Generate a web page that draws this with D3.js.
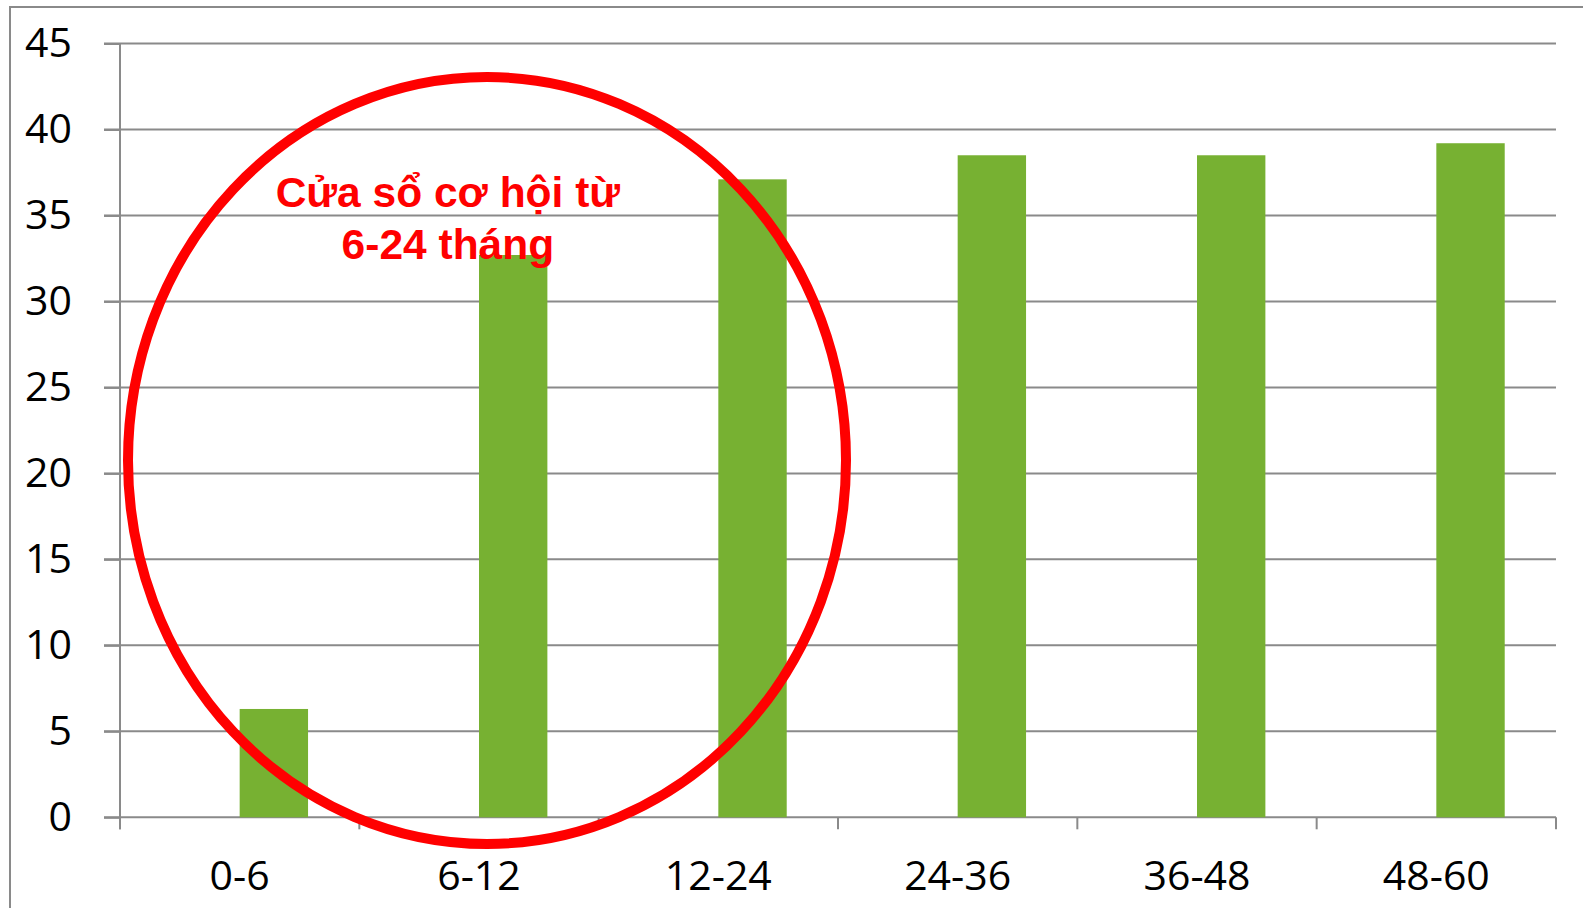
<!DOCTYPE html>
<html>
<head>
    <meta charset="UTF-8">
    <title>Cửa sổ cơ hội</title>
    <script src="https://d3js.org/d3.v7.min.js"></script>

    <style type="text/css">
      body{
        margin: 0;
        background-color: white;
      }

      svg{
        display: block;
        background-color: white;
      }
    </style>

</head>
<body>
    <svg id="chart"></svg>

    <script>

        // data
        const categories = ["0-6", "6-12", "12-24", "24-36", "36-48", "48-60"];
        const series = ["empty", "value"];
        const values = [6.3, 32.7, 37.1, 38.5, 38.5, 39.2];
        const yTicks = [0, 5, 10, 15, 20, 25, 30, 35, 40, 45];
        const noteLines = ["Cửa sổ cơ hội từ", "6-24 tháng"];

        const totalW = 1583;
        const totalH = 908;
        const margins = {top: 43.5, bottom: 90.7, left: 120, right: 27};
        const width = totalW - margins.left - margins.right;
        const height = totalH - margins.top - margins.bottom;

        const gridColor = "#8a8a8a";
        const barColor = "#77b132";

        const svg = d3.select("#chart")
          .attr("width", totalW)
          .attr("height", totalH);

        // outer frame of the pasted chart
        svg.append("rect")
          .attr("x", 10)
          .attr("y", 7)
          .attr("width", totalW + 50)
          .attr("height", totalH + 50)
          .attr("fill", "none")
          .attr("stroke", gridColor)
          .attr("stroke-width", 2);

        const chart = svg.append("g")
          .attr("transform", `translate(${margins.left}, ${margins.top})`);

        const x_scale = d3.scaleBand()
          .range([0, width])
          .domain(categories);

        // two series per category, first one is empty (like the excel source)
        const x_sub = d3.scaleBand()
          .range([0, x_scale.bandwidth()])
          .domain(series)
          .paddingInner(0)
          .paddingOuter(0.75);

        const y_scale = d3.scaleLinear()
          .range([height, 0])
          .domain([0, 45]);

        // gridlines
        chart.append("g")
          .selectAll("line")
          .data(yTicks)
          .enter()
          .append("line")
          .attr("x1", -16)
          .attr("x2", width)
          .attr("y1", d => y_scale(d))
          .attr("y2", d => y_scale(d))
          .attr("stroke", gridColor)
          .attr("stroke-width", 2);

        // y axis
        const yAxis = chart.append("g")
          .call(d3.axisLeft(y_scale).tickValues(yTicks).tickSize(16).tickSizeOuter(0).tickPadding(32));
        yAxis.select(".domain").remove();
        yAxis.selectAll(".tick line").attr("stroke", gridColor).attr("stroke-width", 2);
        yAxis.selectAll("text")
          .attr("fill", "#000")
          .style("font-family", "'Open Sans', sans-serif")
          .style("font-size", "41px");

        chart.append("line")
          .attr("x1", 0).attr("x2", 0)
          .attr("y1", y_scale(45)).attr("y2", height + 12)
          .attr("stroke", gridColor)
          .attr("stroke-width", 2);

        // x axis: boundary ticks and centred labels
        const bounds = categories.map(c => x_scale(c)).concat([x_scale(categories[categories.length - 1]) + x_scale.bandwidth()]);
        chart.append("g")
          .selectAll("line")
          .data(bounds)
          .enter()
          .append("line")
          .attr("x1", d => d).attr("x2", d => d)
          .attr("y1", height).attr("y2", height + 12)
          .attr("stroke", gridColor)
          .attr("stroke-width", 2);

        chart.append("g")
          .selectAll("text")
          .data(categories)
          .enter()
          .append("text")
          .attr("x", d => x_scale(d) + x_scale.bandwidth() / 2)
          .attr("y", height + 73)
          .attr("text-anchor", "middle")
          .style("font-family", "'Open Sans', sans-serif")
          .style("font-size", "41px")
          .text(d => d);

        // bars
        chart.append("g")
          .selectAll("rect")
          .data(values)
          .enter()
          .append("rect")
          .attr("x", (d, i) => x_scale(categories[i]) + x_sub("value"))
          .attr("y", d => y_scale(d))
          .attr("width", x_sub.bandwidth())
          .attr("height", d => height - y_scale(d))
          .attr("fill", barColor);

        // red ring around the first three groups
        chart.append("ellipse")
          .attr("cx", x_scale("6-12") + x_scale.bandwidth() / 2 + 8)
          .attr("cy", y_scale(20.75))
          .attr("rx", x_scale.bandwidth() * 1.5)
          .attr("ry", y_scale(0) - y_scale(22.3))
          .attr("fill", "none")
          .attr("stroke", "#ff0000")
          .attr("stroke-width", 10);

        chart.append("g")
          .selectAll("text")
          .data(noteLines)
          .enter()
          .append("text")
          .attr("x", x_scale("6-12") + x_scale.bandwidth() * 0.37)
          .attr("y", (d, i) => y_scale(i === 0 ? 35.5 : 32.45))
          .attr("text-anchor", "middle")
          .attr("fill", "#ff0000")
          .style("font-family", "'Liberation Sans', Arial, sans-serif")
          .style("font-weight", "bold")
          .style("font-size", "42.5px")
          .text(d => d);

    </script>
</body>
</html>
